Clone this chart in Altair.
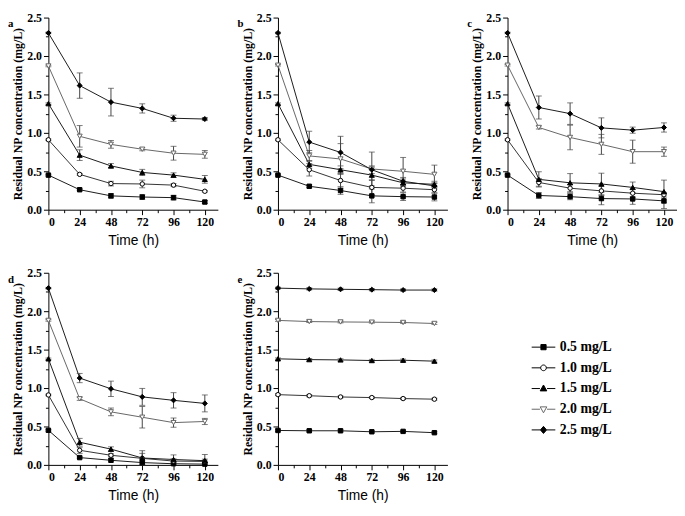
import altair as alt
import pandas as pd

TIMES = [0, 24, 48, 72, 96, 120]
CONCS = ["0.5 mg/L", "1.0 mg/L", "1.5 mg/L", "2.0 mg/L", "2.5 mg/L"]

A_MEAN = [
    [0.45, 0.26, 0.18, 0.165, 0.157, 0.10],
    [0.91, 0.46, 0.34, 0.335, 0.32, 0.24],
    [1.38, 0.71, 0.57, 0.485, 0.45, 0.395],
    [1.87, 0.955, 0.85, 0.787, 0.735, 0.72],
    [2.30, 1.615, 1.40, 1.318, 1.19, 1.18],
]
A_ERR = [
    [0.01, 0.01, 0.03, 0.03, 0.03, 0.02],
    [0.01, 0.01, 0.03, 0.05, 0.02, 0.01],
    [0.01, 0.07, 0.03, 0.04, 0.03, 0.05],
    [0.01, 0.14, 0.05, 0.02, 0.09, 0.05],
    [0.01, 0.165, 0.18, 0.06, 0.04, 0.02],
]
B_MEAN = [
    [0.45, 0.305, 0.25, 0.18, 0.17, 0.165],
    [0.91, 0.52, 0.38, 0.29, 0.28, 0.26],
    [1.38, 0.59, 0.52, 0.45, 0.35, 0.33],
    [1.88, 0.70, 0.66, 0.53, 0.50, 0.46],
    [2.30, 0.88, 0.745, 0.52, 0.37, 0.31],
]
B_ERR = [
    [0.01, 0.02, 0.05, 0.09, 0.05, 0.05],
    [0.01, 0.08, 0.10, 0.10, 0.05, 0.04],
    [0.01, 0.05, 0.05, 0.07, 0.05, 0.04],
    [0.01, 0.07, 0.20, 0.22, 0.18, 0.12],
    [0.01, 0.14, 0.21, 0.05, 0.05, 0.04],
]
C_MEAN = [
    [0.45, 0.185, 0.17, 0.145, 0.14, 0.115],
    [0.91, 0.355, 0.28, 0.245, 0.215, 0.195],
    [1.38, 0.395, 0.35, 0.335, 0.29, 0.235],
    [1.88, 1.07, 0.94, 0.85, 0.755, 0.755],
    [2.30, 1.33, 1.25, 1.065, 1.035, 1.07],
]
C_ERR = [
    [0.01, 0.04, 0.04, 0.08, 0.07, 0.10],
    [0.01, 0.05, 0.05, 0.06, 0.05, 0.03],
    [0.01, 0.10, 0.12, 0.14, 0.07, 0.15],
    [0.01, 0.02, 0.16, 0.13, 0.15, 0.06],
    [0.01, 0.15, 0.14, 0.13, 0.04, 0.06],
]
D_MEAN = [
    [0.45, 0.095, 0.06, 0.03, 0.015, 0.01],
    [0.91, 0.19, 0.125, 0.085, 0.05, 0.045],
    [1.38, 0.295, 0.205, 0.09, 0.07, 0.055],
    [1.88, 0.86, 0.69, 0.62, 0.55, 0.565],
    [2.30, 1.13, 0.99, 0.885, 0.84, 0.80],
]
D_ERR = [
    [0.01, 0.01, 0.02, 0.02, 0.02, 0.02],
    [0.01, 0.04, 0.02, 0.10, 0.03, 0.03],
    [0.01, 0.05, 0.03, 0.06, 0.06, 0.08],
    [0.01, 0.02, 0.05, 0.14, 0.06, 0.04],
    [0.01, 0.06, 0.10, 0.11, 0.10, 0.11],
]
E_MEAN = [
    [0.448, 0.444, 0.444, 0.431, 0.436, 0.419],
    [0.914, 0.90, 0.884, 0.876, 0.863, 0.855],
    [1.38, 1.37, 1.366, 1.358, 1.362, 1.35],
    [1.88, 1.865, 1.86, 1.857, 1.853, 1.84],
    [2.30, 2.29, 2.285, 2.28, 2.275, 2.275],
]
E_ERR = [
    [0.012, 0.012, 0.012, 0.012, 0.012, 0.012],
    [0.012, 0.012, 0.012, 0.012, 0.012, 0.012],
    [0.012, 0.015, 0.015, 0.015, 0.015, 0.015],
    [0.012, 0.012, 0.012, 0.012, 0.012, 0.012],
    [0.012, 0.015, 0.015, 0.015, 0.015, 0.015],
]

# styles
SHAPES = ["square", "circle", "triangle-up", "triangle-down", "diamond"]
FILLS = ["black", "white", "black", "white", "black"]
STROKES = ["black", "black", "black", "#666666", "black"]
SIZES = [20, 20, 26, 26, 26]
LINE_COLORS = ["#1a1a1a", "#333333", "#1a1a1a", "#666666", "#1a1a1a"]
ERR_COLOR = "#444444"
LEGEND_PATHS = [
    "M-1,0H-0.22M0.22,0H1M-0.22,-0.22H0.22V0.22H-0.22Z",
    "M-1,0H-0.24M0.24,0H1M0.24,0A0.24,0.24,0,1,1,-0.24,0A0.24,0.24,0,1,1,0.24,0Z",
    "M-1,0H-0.3M0.3,0H1M0,-0.3L0.28,0.2H-0.28Z",
    "M-1,0H-0.3M0.3,0H1M0,0.3L0.28,-0.2H-0.28Z",
    "M-1,0H-0.26M0.26,0H1M0,-0.3L0.26,0L0,0.3L-0.26,0Z",
]

SERIF = "Liberation Serif"
NARROW = "Liberation Sans Narrow, Liberation Sans, sans-serif"
PW, PH = 172, 195


def build_df(mean, err):
    rows = []
    for i, c in enumerate(CONCS):
        for j, t in enumerate(TIMES):
            m, e = mean[i][j], err[i][j]
            rows.append({"conc": c, "time": t, "value": m, "lo": m - e, "hi": m + e})
    return pd.DataFrame(rows)


X_AXIS = alt.Axis(
    title="Time (h)", values=list(range(0, 121, 12)),
    labelExpr="datum.value % 24 === 0 ? datum.label : ''",
    tickSize={"condition": {"test": "datum.value % 24 === 0", "value": 5}, "value": 3},
    labelOverlap=False, grid=False, labelFont=SERIF, labelFontWeight="bold",
    labelFontSize=12, labelPadding=2, titleFont=NARROW, titleFontSize=14,
    titleFontWeight="normal", titlePadding=6,
)
Y_AXIS = alt.Axis(
    title="Residual NP concentration (mg/L)", values=[i * 0.25 for i in range(11)],
    format=".1f",
    labelExpr="round(datum.value * 4) % 2 === 0 ? datum.label : ''",
    tickSize={"condition": {"test": "round(datum.value * 4) % 2 === 0", "value": 5}, "value": 3},
    labelOverlap=False, grid=False, labelFont=SERIF, labelFontWeight="bold",
    labelFontSize=12, labelPadding=2, titleFont=SERIF, titleFontSize=12,
    titleFontWeight="bold", titlePadding=2,
)
XS = alt.Scale(domain=[0, 130], nice=False)
YS = alt.Scale(domain=[0, 2.5], nice=False, clamp=True)


def xenc():
    return alt.X("time:Q", scale=XS, axis=X_AXIS)


def yenc(field):
    return alt.Y(f"{field}:Q", scale=YS, axis=Y_AXIS)


def panel(mean, err, label, legend=False, title_offset=-18):
    df = build_df(mean, err)
    base = alt.Chart(df)
    layers = []
    for i, c in enumerate(CONCS):
        layers.append(
            base.transform_filter(alt.datum.conc == c)
            .mark_line(strokeWidth=1, color=LINE_COLORS[i])
            .encode(x=xenc(), y=yenc("value"))
        )
    layers.append(
        base.mark_rule(color=ERR_COLOR, strokeWidth=1).encode(
            x=xenc(), y=yenc("lo"), y2="hi:Q")
    )
    for f in ["lo", "hi"]:
        layers.append(
            base.mark_tick(orient="horizontal", size=6, thickness=1, color=ERR_COLOR)
            .encode(x=xenc(), y=yenc(f))
        )
    for i, c in enumerate(CONCS):
        layers.append(
            base.transform_filter(alt.datum.conc == c)
            .mark_point(shape=SHAPES[i], filled=True, fill=FILLS[i], stroke=STROKES[i],
                        strokeWidth=1, size=SIZES[i], opacity=1)
            .encode(x=xenc(), y=yenc("value"))
        )
    if legend:
        leg = alt.Legend(
            orient="none", legendX=490, legendY=322, title=None,
            labelFont=SERIF, labelFontWeight="bold", labelFontSize=14,
            labelColor="black", symbolSize=576, symbolStrokeWidth=1,
            rowPadding=1, labelOffset=4,
        )
        ldf = pd.DataFrame({"conc": CONCS})
        layers.append(
            alt.Chart(ldf).transform_filter("false")
            .mark_point(filled=True, strokeWidth=1, opacity=1)
            .encode(
                x=alt.X("x:Q", scale=XS, axis=X_AXIS),
                shape=alt.Shape("conc:N", scale=alt.Scale(domain=CONCS, range=LEGEND_PATHS), legend=leg),
                fill=alt.Fill("conc:N", scale=alt.Scale(domain=CONCS, range=FILLS), legend=leg),
                stroke=alt.Stroke("conc:N", scale=alt.Scale(domain=CONCS, range=STROKES), legend=leg),
            )
        )
    return alt.layer(*layers).properties(
        width=PW, height=PH,
        title=alt.TitleParams(text=label, anchor="start", font=SERIF, fontWeight="bold",
                              fontSize=11, dx=-4, offset=title_offset, color="black"),
    )


a = panel(A_MEAN, A_ERR, "a")
b = panel(B_MEAN, B_ERR, "b")
c = panel(C_MEAN, C_ERR, "c")
d = panel(D_MEAN, D_ERR, "d")
e = panel(E_MEAN, E_ERR, "e", legend=True)

row1 = alt.hconcat(a, b, c, spacing=20)
row2 = alt.hconcat(d, e, spacing=20)
chart = (
    alt.vconcat(row1, row2, spacing=20)
    .properties(padding=0)
    .configure_view(stroke=None)
    .configure_axis(domainColor="black", tickColor="black", labelColor="black",
                    titleColor="black", domainWidth=1, tickWidth=1)
)
chart.save("out.html", embed_options={"renderer": "svg", "actions": False})
